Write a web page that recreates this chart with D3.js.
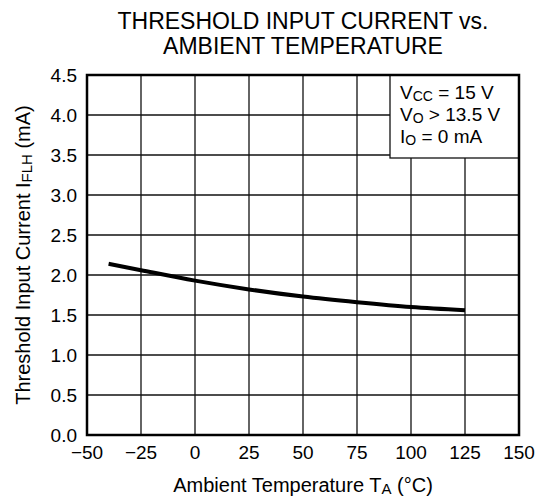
<!DOCTYPE html>
<html><head><meta charset="utf-8">
<script src="https://cdn.jsdelivr.net/npm/d3@7"></script>
<style>body{margin:0;background:#fff}svg{display:block}text{font-family:"Liberation Sans",Arial,sans-serif;fill:#000}</style>
</head><body>
<script>
const temps = [-40, -25, 0, 25, 50, 75, 100, 125];
const current = [2.14, 2.06, 1.93, 1.82, 1.73, 1.66, 1.60, 1.56];
const xTicks = [-50, -25, 0, 25, 50, 75, 100, 125, 150];
const yTicks = [0, 0.5, 1.0, 1.5, 2.0, 2.5, 3.0, 3.5, 4.0, 4.5];

const W = 540, H = 501;
const m = {left: 87, right: 21, top: 75, bottom: 66};
const svg = d3.select("body").append("svg").attr("width", W).attr("height", H);
const x = d3.scaleLinear().domain([-50, 150]).range([m.left, W - m.right]);
const y = d3.scaleLinear().domain([0, 4.5]).range([H - m.bottom, m.top]);

// grid
const g = svg.append("g");
g.selectAll("line.v").data(xTicks).join("line")
  .attr("x1", d => x(d)).attr("x2", d => x(d)).attr("y1", y(0)).attr("y2", y(4.5))
  .attr("stroke", "#111").attr("stroke-width", 1.3);
g.selectAll("line.h").data(yTicks).join("line")
  .attr("x1", x(-50)).attr("x2", x(150)).attr("y1", d => y(d)).attr("y2", d => y(d))
  .attr("stroke", "#111").attr("stroke-width", 1.3);

// legend box
const lx = 390;
svg.append("rect").attr("x", lx).attr("y", y(4.5)).attr("width", x(150) - lx).attr("height", 158 - y(4.5))
  .attr("fill", "#fff").attr("stroke", "#111").attr("stroke-width", 1.3);
const legendLines = [
  [["V", ""], ["CC", "sub"], [" = 15 V", ""]],
  [["V", ""], ["O", "sub"], [" > 13.5 V", ""]],
  [["I", ""], ["O", "sub"], [" = 0 mA", ""]]
];
const legendY = [99, 121, 143];
legendLines.forEach((parts, i) => {
  const t = svg.append("text").attr("x", 400).attr("y", legendY[i]).attr("font-size", 19);
  parts.forEach((p, j) => {
    const s = t.append("tspan").text(p[0]);
    if (p[1] === "sub") s.attr("font-size", 14).attr("dy", 2);
    else if (j > 0) s.attr("dy", -2);
  });
});

// frame
svg.append("rect").attr("x", x(-50)).attr("y", y(4.5)).attr("width", x(150) - x(-50)).attr("height", y(0) - y(4.5))
  .attr("fill", "none").attr("stroke", "#000").attr("stroke-width", 2.5);

// curve
svg.append("path").datum(temps.map((t, i) => [t, current[i]]))
  .attr("d", d3.line().x(d => x(d[0])).y(d => y(d[1])).curve(d3.curveMonotoneX))
  .attr("fill", "none").attr("stroke", "#000").attr("stroke-width", 4);

// tick labels
svg.selectAll("text.xt").data(xTicks).join("text")
  .attr("x", d => x(d)).attr("y", 459).attr("text-anchor", "middle").attr("font-size", 19)
  .text(d => d < 0 ? "\u2212" + Math.abs(d) : d);
svg.selectAll("text.yt").data(yTicks).join("text")
  .attr("x", 77).attr("y", d => y(d)).attr("dy", "0.35em").attr("text-anchor", "end").attr("font-size", 19)
  .text(d => d.toFixed(1));

// title
svg.append("text").attr("x", 303).attr("y", 29).attr("text-anchor", "middle").attr("font-size", 23).text("THRESHOLD INPUT CURRENT vs.");
svg.append("text").attr("x", 303).attr("y", 54).attr("text-anchor", "middle").attr("font-size", 23).text("AMBIENT TEMPERATURE");

// x axis title
const xt = svg.append("text").attr("x", 303).attr("y", 492).attr("text-anchor", "middle").attr("font-size", 20);
xt.append("tspan").text("Ambient Temperature T");
xt.append("tspan").text("A").attr("font-size", 15).attr("dy", 2);
xt.append("tspan").text(" (\u00b0C)").attr("dy", -2);

// y axis title
const yt = svg.append("text").attr("transform", `translate(30,${(y(0) + y(4.5)) / 2}) rotate(-90)`)
  .attr("text-anchor", "middle").attr("font-size", 20);
yt.append("tspan").text("Threshold Input Current I");
yt.append("tspan").text("FLH").attr("font-size", 15).attr("dy", 2);
yt.append("tspan").text(" (mA)").attr("dy", -2);
</script>
</body></html>
